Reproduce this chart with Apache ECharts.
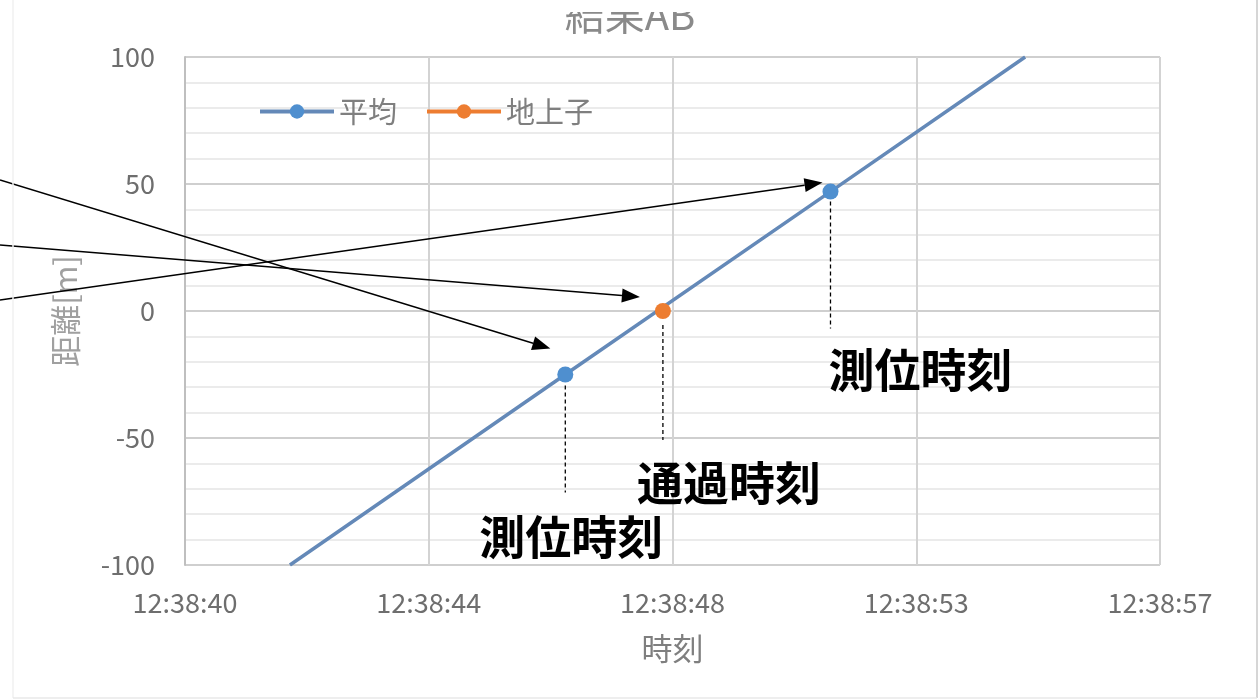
<!DOCTYPE html>
<html>
<head>
<meta charset="utf-8">
<script src="https://cdn.jsdelivr.net/npm/echarts@6.0.0/dist/echarts.min.js"></script>
<style>
  html, body { margin: 0; padding: 0; background: #ffffff; }
  #chart { width: 1260px; height: 700px; }
</style>
</head>
<body>
<div id="chart"></div>
<script>
// X axis: seconds counted from the first gridline (12:38:40), gridlines every 4.32 s
const STEP = 4.32;
const tickLabels = ['12:38:40', '12:38:44', '12:38:48', '12:38:53', '12:38:57'];

// 平均 line: endpoints of the fitted line plus the two positioning fixes
const avgTime = [1.86, 6.74, 11.44, 14.89];
const avgDist = [-100, -25, 47, 100];
const avgMarked = [false, true, true, false];

// 地上子 (beacon) passage point
const passTime = [8.47];
const passDist = [0];

const FONT = '"Noto Sans CJK JP", "Noto Sans", sans-serif';
const GREY = '#7f7f7f';

const chart = echarts.init(document.getElementById('chart'), null, { renderer: 'canvas' });

const avgData = avgTime.map((t, i) => ({
  value: [t, avgDist[i]],
  symbol: avgMarked[i] ? 'circle' : 'none'
}));
const passData = passTime.map((t, i) => [t, passDist[i]]);

chart.setOption({
  animation: false,
  backgroundColor: '#ffffff',
  title: {
    text: '結果AB',
    left: 'center',
    top: -10,
    textStyle: { fontFamily: FONT, fontSize: 40, fontWeight: 'normal', color: '#8a8a8a', lineHeight: 40 }
  },
  legend: {
    left: 253,
    top: 92,
    itemWidth: 74,
    itemHeight: 18,
    itemGap: 28,
    lineStyle: { width: 4 },
    textStyle: { fontFamily: FONT, fontSize: 29, color: GREY, padding: [0, 0, 0, 0] },
    data: ['平均', '地上子']
  },
  grid: { left: 185, right: 100, top: 57, bottom: 135 },
  xAxis: {
    type: 'value',
    min: 0,
    max: STEP * 4,
    interval: STEP,
    name: '時刻',
    nameLocation: 'middle',
    nameGap: 68,
    nameTextStyle: { fontFamily: FONT, fontSize: 31, color: GREY, verticalAlign: 'top' },
    axisLine: { show: false },
    axisTick: { show: false },
    axisLabel: {
      margin: 24,
      fontFamily: FONT,
      fontSize: 27,
      color: '#6e6e6e',
      formatter: v => tickLabels[Math.round(v / STEP)] || ''
    },
    splitLine: { show: true, lineStyle: { color: '#d3d3d3', width: 2 } }
  },
  yAxis: {
    type: 'value',
    min: -100,
    max: 100,
    interval: 50,
    name: '距離[m]',
    nameLocation: 'middle',
    nameRotate: 90,
    nameGap: 104,
    nameTextStyle: { fontFamily: FONT, fontSize: 31, color: '#a0a0a0' },
    axisLine: { show: true, onZero: false, lineStyle: { color: '#bfbfbf', width: 2 } },
    axisTick: { show: false },
    axisLabel: { margin: 30, fontFamily: FONT, fontSize: 27, color: '#6e6e6e' },
    splitLine: { show: true, lineStyle: { color: '#cfcfcf', width: 2 } },
    minorTick: { show: false, splitNumber: 5 },
    minorSplitLine: { show: true, lineStyle: { color: '#ebebeb', width: 2 } }
  },
  series: [
    {
      name: '平均',
      type: 'line',
      data: avgData,
      symbol: 'circle',
      symbolSize: 16,
      itemStyle: { color: '#4f8fcf' },
      lineStyle: { color: '#6489b8', width: 3.5 },
      z: 3
    },
    {
      name: '地上子',
      type: 'line',
      data: passData,
      symbol: 'circle',
      symbolSize: 16,
      itemStyle: { color: '#ed7d31' },
      lineStyle: { color: '#ed7d31', width: 3.5 },
      z: 4
    }
  ]
});

// Annotations: arrows from the left margin, dashed drop lines and captions
function px(t, d) { return chart.convertToPixel({ gridIndex: 0 }, [t, d]); }

const fix1 = px(avgTime[1], avgDist[1]);
const pass = px(passTime[0], passDist[0]);
const fix2 = px(avgTime[2], avgDist[2]);

function arrow(from, tip) {
  const dx = tip[0] - from[0], dy = tip[1] - from[1];
  const len = Math.sqrt(dx * dx + dy * dy);
  const ux = dx / len, uy = dy / len;
  const head = 18, half = 7;
  const base = [tip[0] - ux * head, tip[1] - uy * head];
  return [
    {
      type: 'line', z: 50,
      shape: { x1: from[0], y1: from[1], x2: base[0], y2: base[1] },
      style: { stroke: '#000000', lineWidth: 1.5 }
    },
    {
      type: 'polygon', z: 50,
      shape: { points: [tip, [base[0] - uy * half, base[1] + ux * half], [base[0] + uy * half, base[1] - ux * half]] },
      style: { fill: '#000000' }
    }
  ];
}

function drop(p, y1, y2) {
  return {
    type: 'line', z: 50,
    shape: { x1: p[0], y1: p[1] + y1, x2: p[0], y2: p[1] + y2 },
    style: { stroke: '#000000', lineWidth: 1.3, lineDash: [4, 3] }
  };
}

function caption(p, dx, dy, text) {
  return {
    type: 'text', z: 50,
    x: p[0] + dx, y: p[1] + dy,
    style: {
      text: text, fill: '#000000',
      font: 'bold 46px ' + FONT,
      textAlign: 'center', textVerticalAlign: 'middle'
    }
  };
}

const frame = [
  { type: 'rect', z: 60, shape: { x: 0, y: 0, width: 1260, height: 12 }, style: { fill: '#ffffff' } },
  { type: 'line', z: 60, shape: { x1: 13, y1: 0, x2: 13, y2: 698 }, style: { stroke: '#f0f0f0', lineWidth: 1.5 } },
  { type: 'line', z: 60, shape: { x1: 1257, y1: 0, x2: 1257, y2: 698 }, style: { stroke: '#d6d6d6', lineWidth: 2 } },
  { type: 'line', z: 60, shape: { x1: 13, y1: 698, x2: 1257, y2: 698 }, style: { stroke: '#e8e8e8', lineWidth: 1.5 } }
];

chart.setOption({
  graphic: [].concat(
    frame,
    arrow([0, 180], [fix1[0] - 15, fix1[1] - 26]),
    arrow([0, 245], [pass[0] - 23, pass[1] - 14]),
    arrow([0, 300], [fix2[0] - 8, fix2[1] - 9]),
    [
      drop(fix1, 11, 118),
      drop(pass, 14, 129),
      drop(fix2, 10, 137),
      caption(fix1, 6, 162, '測位時刻'),
      caption(pass, 66, 172, '通過時刻'),
      caption(fix2, 90, 178, '測位時刻')
    ]
  )
});
</script>
</body>
</html>
